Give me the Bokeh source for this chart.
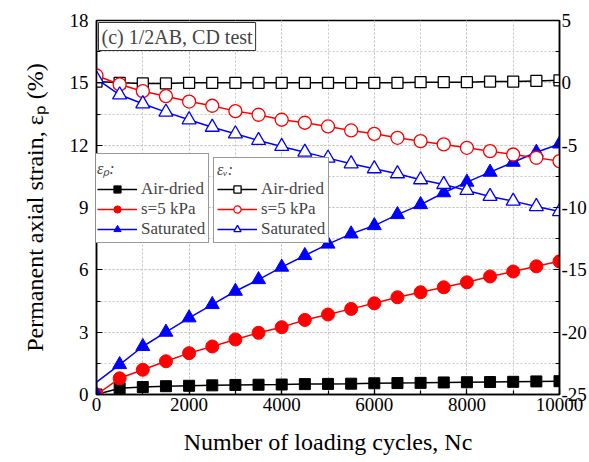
from bokeh.plotting import figure
from bokeh.models import (Range1d, LinearAxis, Legend, LegendItem, Label, SingleIntervalTicker,
                          PrintfTickFormatter)
from bokeh.embed import file_html
from bokeh.resources import INLINE

# ---------------- data ----------------
cycles = [0, 500, 1000, 1500, 2000, 2500, 3000, 3500, 4000, 4500, 5000,
          5500, 6000, 6500, 7000, 7500, 8000, 8500, 9000, 9500, 10000]

# permanent axial strain (left axis, %)
ep_air = [0.0, 0.30, 0.36, 0.40, 0.42, 0.44, 0.46, 0.47, 0.48, 0.50, 0.51,
          0.52, 0.54, 0.55, 0.56, 0.58, 0.59, 0.60, 0.61, 0.63, 0.64]
ep_s5 = [0.0, 0.78, 1.19, 1.60, 1.99, 2.31, 2.65, 2.97, 3.24, 3.59, 3.85,
         4.12, 4.39, 4.68, 4.92, 5.16, 5.40, 5.68, 5.92, 6.17, 6.41]
ep_sat = [0.0, 1.44, 2.31, 3.00, 3.69, 4.33, 4.97, 5.53, 6.13, 6.69, 7.24,
          7.73, 8.13, 8.66, 9.14, 9.71, 10.22, 10.70, 11.18, 11.66, 12.06]
# saturated curve: first-cycle value (line only)
sat_first_cycle = [1]
sat_first_ep = [0.6]

# volumetric strain (right axis, %)
ev_air = [0.10, 0.0, -0.05, -0.05, 0.0, 0.0, 0.0, 0.0, 0.0, 0.0, 0.0,
          0.0, 0.0, 0.0, 0.05, 0.05, 0.05, 0.10, 0.10, 0.15, 0.20]
ev_s5 = [0.59, -0.13, -0.67, -1.07, -1.50, -1.84, -2.27, -2.56, -2.96, -3.20, -3.50,
         -3.82, -4.09, -4.41, -4.68, -4.94, -5.21, -5.48, -5.75, -6.01, -6.28]
ev_sat = [0.32, -0.96, -1.68, -2.35, -2.96, -3.56, -4.09, -4.62, -5.10, -5.56, -6.04,
          -6.49, -6.89, -7.29, -7.77, -8.15, -8.63, -9.11, -9.49, -9.92, -10.32]

series_labels = ["Air-dried", "s=5 kPa", "Saturated"]
legend_titles = ["\u03b5\u209a:", "\u03b5\u1d65:"]
x_title = "Number of loading cycles, Nc"
y_title = "Permanent axial strain, \u03b5\u209a (%)"
panel_tag = "(c) 1/2AB, CD test"
x_limits = (0, 10000)
left_limits = (0, 18)
right_limits = (-25, 5)

FONT = "Liberation Serif"

p = figure(width=589, height=462, output_backend="svg", toolbar_location=None,
           x_range=Range1d(*x_limits), y_range=Range1d(*left_limits),
           min_border_left=96, min_border_top=20, min_border_bottom=68, min_border_right=0,
           background_fill_color="white", border_fill_color="white")
p.extra_y_ranges = {"ev": Range1d(*right_limits)}
p.outline_line_color = "black"
p.outline_line_width = 1.5

right_axis = LinearAxis(y_range_name="ev")
p.add_layout(right_axis, "right")

p.xaxis.ticker = SingleIntervalTicker(interval=2000, num_minor_ticks=2)
p.yaxis[0].ticker = SingleIntervalTicker(interval=3, num_minor_ticks=2)
right_axis.ticker = SingleIntervalTicker(interval=5, num_minor_ticks=2)
right_axis.formatter = PrintfTickFormatter(format="%d")

for ax in [p.xaxis[0], p.yaxis[0], right_axis]:
    ax.axis_line_color = "black"
    ax.axis_line_width = 1.5
    ax.major_tick_in = 6
    ax.major_tick_out = 0
    ax.minor_tick_in = 4
    ax.minor_tick_out = 0
    ax.major_tick_line_color = "black"
    ax.minor_tick_line_color = "black"
    ax.major_tick_line_width = 1.2
    ax.minor_tick_line_width = 1.2
    ax.major_label_text_font = FONT
    ax.major_label_text_font_size = "19px"
    ax.major_label_text_color = "black"
    ax.axis_label_text_font = FONT
    ax.axis_label_text_font_size = "24px"
    ax.axis_label_text_font_style = "normal"
    ax.axis_label_text_color = "black"

p.yaxis[0].major_label_standoff = 8
p.yaxis[0].axis_label = y_title
p.yaxis[0].axis_label_standoff = 19
right_axis.major_label_standoff = 2
p.xaxis[0].major_label_standoff = 3
p.xaxis[0].axis_label = x_title
p.xaxis[0].axis_label_standoff = 15

for g in [p.xgrid[0], p.ygrid[0]]:
    g.grid_line_color = "#c4c4c4"
    g.grid_line_dash = "2 2"
    g.grid_line_width = 1
    g.minor_grid_line_color = "#c4c4c4"
    g.minor_grid_line_dash = "2 2"
    g.minor_grid_line_width = 1

RED = "#ff0000"
BLUE = "#0000ff"

# permanent strain (filled markers)
l_air = p.line(cycles, ep_air, line_color="black", line_width=1.5)
m_air = p.scatter(cycles, ep_air, marker="square", size=11, fill_color="black", line_color="black")
l_s5 = p.line(cycles, ep_s5, line_color=RED, line_width=1.5)
m_s5 = p.scatter(cycles, ep_s5, marker="circle", size=13, fill_color=RED, line_color=RED)
l_sat = p.line([cycles[0]] + sat_first_cycle + cycles[1:], [ep_sat[0]] + sat_first_ep + ep_sat[1:],
               line_color=BLUE, line_width=1.5)
m_sat = p.scatter(cycles, ep_sat, marker="triangle", size=14, fill_color=BLUE, line_color=BLUE)

# volumetric strain (open markers)
lv_air = p.line(cycles, ev_air, line_color="black", line_width=1.5, y_range_name="ev")
mv_air = p.scatter(cycles, ev_air, marker="square", size=11, fill_color="white", line_color="black",
                   line_width=1.3, y_range_name="ev")
lv_s5 = p.line(cycles, ev_s5, line_color=RED, line_width=1.5, y_range_name="ev")
mv_s5 = p.scatter(cycles, ev_s5, marker="circle", size=13, fill_color="white", line_color=RED,
                  line_width=1.3, y_range_name="ev")
lv_sat = p.line(cycles, ev_sat, line_color=BLUE, line_width=1.5, y_range_name="ev")
mv_sat = p.scatter(cycles, ev_sat, marker="triangle", size=14, fill_color="white", line_color=BLUE,
                   line_width=1.3, y_range_name="ev")


def make_legend(title, pairs, loc):
    items = [LegendItem(label=lab, renderers=list(rs)) for lab, rs in zip(series_labels, pairs)]
    return Legend(items=items, location=loc, title=title,
                  title_text_font=FONT, title_text_font_size="16px", title_text_font_style="italic",
                  title_standoff=0, padding=3, margin=0, spacing=0,
                  glyph_width=40, glyph_height=18, label_height=17, label_standoff=4,
                  label_text_font=FONT, label_text_font_size="17px",
                  border_line_color="#333333", border_line_width=1,
                  background_fill_color="white", background_fill_alpha=1.0)


p.add_layout(make_legend(legend_titles[0], [(l_air, m_air), (l_s5, m_s5), (l_sat, m_sat)], (-3, 151)))
p.add_layout(make_legend(legend_titles[1], [(lv_air, mv_air), (lv_s5, mv_s5), (lv_sat, mv_sat)], (117, 151)))

# panel tag
p.add_layout(Label(x=x_limits[0], y=left_limits[1], x_offset=2, y_offset=-2, text=panel_tag,
                   text_font=FONT, text_font_size="20px", text_align="left", text_baseline="top",
                   padding=3, border_line_color="#333333", border_line_width=1,
                   background_fill_color="white", background_fill_alpha=1.0))

open("out.html", "w").write(file_html(p, INLINE))
